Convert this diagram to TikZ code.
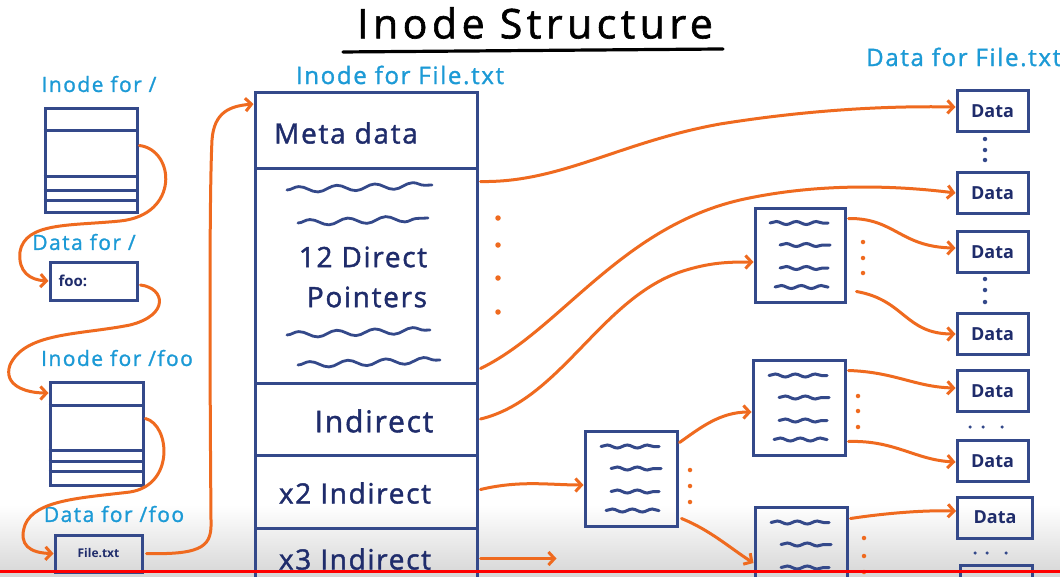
\documentclass[tikz,border=0pt]{standalone}
\usepackage{fontspec}
\setmainfont{Open Sans}
\newfontfamily\titlefont[LetterSpace=11,FakeBold=1.5]{Open Sans}
\newfontfamily\labfont[LetterSpace=7,FakeBold=1.2]{Open Sans}
\newfontfamily\handfont[LetterSpace=6,FakeBold=1.5]{Open Sans}
\usetikzlibrary{arrows.meta,decorations.pathmorphing,calc}
\definecolor{navy}{HTML}{34498A}
\definecolor{ink}{HTML}{1F2C6B}
\definecolor{cyanlab}{HTML}{1C9AD6}
\definecolor{orng}{HTML}{EF6A1F}
\newcommand{\tablines}[1]{%
  \draw[wavs] ($(#1.center)+(-30,-32)$) -- ($(#1.center)+(28,-32)$);
  \draw[wavs] ($(#1.center)+(-20,-10)$) -- ($(#1.center)+(30,-10)$);
  \draw[wavs] ($(#1.center)+(-20,13)$) -- ($(#1.center)+(28,13)$);
  \draw[wavs] ($(#1.center)+(-25,32)$) -- ($(#1.center)+(28,32)$);}
\begin{document}
\begin{tikzpicture}[x=1pt,y=-1pt,
  box/.style={draw=navy, line width=3pt, inner sep=0pt, rectangle},
  tbl/.style={box, minimum width=92pt, minimum height=95pt},
  databox/.style={box, minimum width=71pt, minimum height=41pt, text=ink, font=\bfseries\fontsize{18}{18}\selectfont},
  rowline/.style={draw=navy, line width=2.8pt},
  lab/.style={text=cyanlab, font=\labfont\fontsize{21}{21}\selectfont, inner sep=0pt},
  big/.style={text=ink, font=\handfont\fontsize{28}{28}\selectfont, inner sep=0pt},
  arr/.style={draw=orng, line width=3pt, line cap=round, -{Straight Barb[length=6pt,width=13pt,line width=3pt]}},
  wavb/.style={draw=navy, line width=2.8pt, line cap=round, decorate, decoration={snake, segment length=38pt, amplitude=3pt}},
  wavs/.style={draw=navy, line width=3pt, line cap=round, decorate, decoration={snake, segment length=20pt, amplitude=1.5pt}},
  odot/.style={fill=orng, circle, inner sep=0pt, minimum size=5.5pt},
  ndot/.style={fill=navy, circle, inner sep=0pt, minimum size=4.5pt}
]
\useasboundingbox (0,0) rectangle (1060,576);
\fill[white] (0,0) rectangle (1060,576);
\shade[top color=white, bottom color=black!16] (0,505) rectangle (1060,576);

% title
\node[font=\titlefont\fontsize{41}{41}\selectfont, inner sep=0pt] (title) at (535,23) {Inode Structure};
\draw[line width=3.2pt, line cap=round] ($(title.south west)+(-14,13)$) coordinate (ul1) -- ($(title.south east)+(10,10)$) coordinate (ul2);

% left column
\node[lab] (lroot) at (99,84) {Inode for /};
\node[box, minimum width=92pt, minimum height=104pt] (ri) at (91,160) {};
\foreach \d in {24,70,84,94}
  \draw[rowline] ($(ri.north west)+(0,\d)$) -- ($(ri.north east)+(0,\d)$);
\node[lab] (ldroot) at (84,242) {Data for /};
\node[box, minimum width=87pt, minimum height=38pt, text=ink, font=\bfseries\fontsize{15}{15}\selectfont, text width=70pt, align=left] (rd) at (93.5,281) {foo:};
\node[lab] (lfoo) at (117,358) {Inode for /foo};
\node[box, minimum width=93pt, minimum height=103pt] (fi) at (96.5,433.5) {};
\foreach \d in {25,70,81,91}
  \draw[rowline] ($(fi.north west)+(0,\d)$) -- ($(fi.north east)+(0,\d)$);
\node[lab] (ldfoo) at (114,514) {Data for /foo};
\node[box, minimum width=87pt, minimum height=37pt, text=ink, font=\bfseries\fontsize{12}{12}\selectfont] (fd) at (98.5,553.5) {File.txt};

% main inode
\node[lab, font=\labfont\fontsize{24}{24}\selectfont] (lfile) at (400,75) {Inode for File.txt};
\node[box, minimum width=222pt, minimum height=76pt] (meta) at (366,130) {};
\node[box, minimum width=222pt, minimum height=215pt] (direct) at (366,275.5) {};
\node[box, minimum width=222pt, minimum height=72pt] (ind) at (366,419) {};
\node[box, minimum width=222pt, minimum height=73pt] (ind2) at (366,491.5) {};
\node[box, minimum width=222pt, minimum height=92pt] (ind3) at (366,574) {};
\node[big] (metaT) at (346,133) {Meta data};
\node[big] (dirT) at (363,257) {12 Direct};
\node[big] (ptrT) at (367,297) {Pointers};
\node[big, font=\handfont\fontsize{30}{30}\selectfont] (indT) at (374,421) {Indirect};
\node[big] (ind2T) at (355,493) {x2 Indirect};
\node[big] (ind3T) at (355,559) {x3 Indirect};
\draw[wavb] (287,190) -- (432,185);
\draw[wavb] (298,223) -- (428,218);
\draw[wavb] (287,335) -- (430,330);
\draw[wavb] (298,365) -- (440,360);
\foreach \y [count=\i] in {218,245,278,312} \node[odot] (dd\i) at (498,\y) {};

% indirect tables
\node[tbl, minimum width=90pt, minimum height=94pt] (t1) at (800,255) {};
\node[tbl] (t2) at (631,478.5) {};
\node[tbl] (t3) at (799,407.5) {};
\node[tbl] (t4) at (801,554.5) {};
\tablines{t1}\tablines{t2}\tablines{t3}\tablines{t4}
\foreach \y [count=\i] in {242,258,273} \node[odot, minimum size=4.5pt] (d1\i) at (863,\y) {};
\foreach \y [count=\i] in {470,486,502} \node[odot, minimum size=4.5pt] (d2\i) at (690,\y) {};
\foreach \y [count=\i] in {396,411,427} \node[odot, minimum size=4.5pt] (d3\i) at (858,\y) {};
\foreach \y [count=\i] in {538,556,572} \node[odot, minimum size=4.5pt] (d4\i) at (864,\y) {};

% data column
\node[lab, font=\labfont\fontsize{24}{24}\selectfont, anchor=west] (ldata) at (866,57) {Data for File.txt};
\node[databox] (D1) at (992.5,111) {Data};
\node[databox] (D2) at (992.5,193) {Data};
\node[databox] (D3) at (992.5,252) {Data};
\node[databox] (D4) at (992.5,334) {Data};
\node[databox] (D5) at (992.5,391) {Data};
\node[databox] (D6) at (992.5,461) {Data};
\node[databox, minimum width=75pt] (D7) at (995,517.5) {Data};
\node[databox, minimum width=72pt] (D8) at (996,586) {};
\foreach \y [count=\i] in {139,150,160} \node[ndot] (n1\i) at (985,\y) {};
\foreach \y [count=\i] in {279,290,302} \node[ndot] (n2\i) at (985,\y) {};
\foreach \x [count=\i] in {970,983,1002} \node[ndot, minimum size=3.5pt] (n3\i) at (\x,427) {};
\foreach \x [count=\i] in {975,987,1006} \node[ndot, minimum size=3.5pt] (n4\i) at (\x,553) {};

% left connectors
\draw[arr] ($(ri.north east)+(1,39)$) .. controls (175,150) and (180,215) .. (120,221)
  .. controls (70,226) and (25,222) .. (20,252) .. controls (18,272) and (30,280) .. (rd.west);
\draw[arr] ($(rd.east)+(2,4)$) .. controls (165,288) and (170,315) .. (130,325)
  .. controls (80,335) and (25,332) .. (10,365) .. controls (3,385) and (25,393) .. (fi.west |- 0,393);
\draw[arr] ($(fi.north east)+(1,38)$) .. controls (170,425) and (175,485) .. (130,492)
  .. controls (80,498) and (35,500) .. (25,525) .. controls (18,545) and (30,553) .. (fd.west);
\draw[arr] ($(fd.east)+(3,0)$) .. controls (205,555) and (212,545) .. (211,520)
  .. controls (210,400) and (209,200) .. (212,140) .. controls (214,112) and (230,106) .. (meta.north west |- 0,104);

% main connectors
\draw[arr] ($(direct.north east)+(2,15)$) .. controls (560,183) and (620,142) .. (720,124)
  .. controls (820,108) and (900,106) .. (D1.west |- 0,107);
\draw[arr] ($(direct.south east)+(2,-16)$) .. controls (560,330) and (620,228) .. (740,200)
  .. controls (820,182) and (900,186) .. (D2.west);
\draw[arr] ($(ind.east)+(2,0)$) .. controls (560,400) and (600,300) .. (680,272)
  .. controls (710,262) and (730,262) .. (t1.west |- 0,262);
\draw[arr] ($(ind2.east)+(2,-2)$) .. controls (520,480) and (550,485) .. (t2.west |- 0,485);
\draw[arr] ($(ind3.north east)+(2,32)$) -- ($(ind3.north east)+(78,32)$) coordinate (x3end);
\draw[arr] ($(t2.north east)+(1,13)$) .. controls (700,428) and (720,412) .. (t3.west |- 0,412);
\draw[arr] ($(t2.south east)+(3,-9)$) .. controls (710,530) and (730,548) .. (t4.west |- 0,563);
\draw[arr] ($(t1.north east)+(2,12)$) .. controls (895,218) and (900,247) .. (D3.west |- 0,248);
\draw[arr] ($(t1.south east)+(10,-12)$) .. controls (905,300) and (905,334) .. (D4.west);
\draw[arr] ($(t3.north east)+(2,12)$) .. controls (895,372) and (915,387) .. (D5.west |- 0,388);
\draw[arr] ($(t3.south east)+(2,-15)$) .. controls (895,440) and (915,460) .. (D6.west |- 0,462);
\draw[arr] ($(t4.north east)+(2,13)$) .. controls (880,514) and (920,510) .. (D7.west |- 0,511);

% video progress bar
\draw[red, line width=3pt] (0,571) -- (1060,571);
\end{tikzpicture}
\end{document}
